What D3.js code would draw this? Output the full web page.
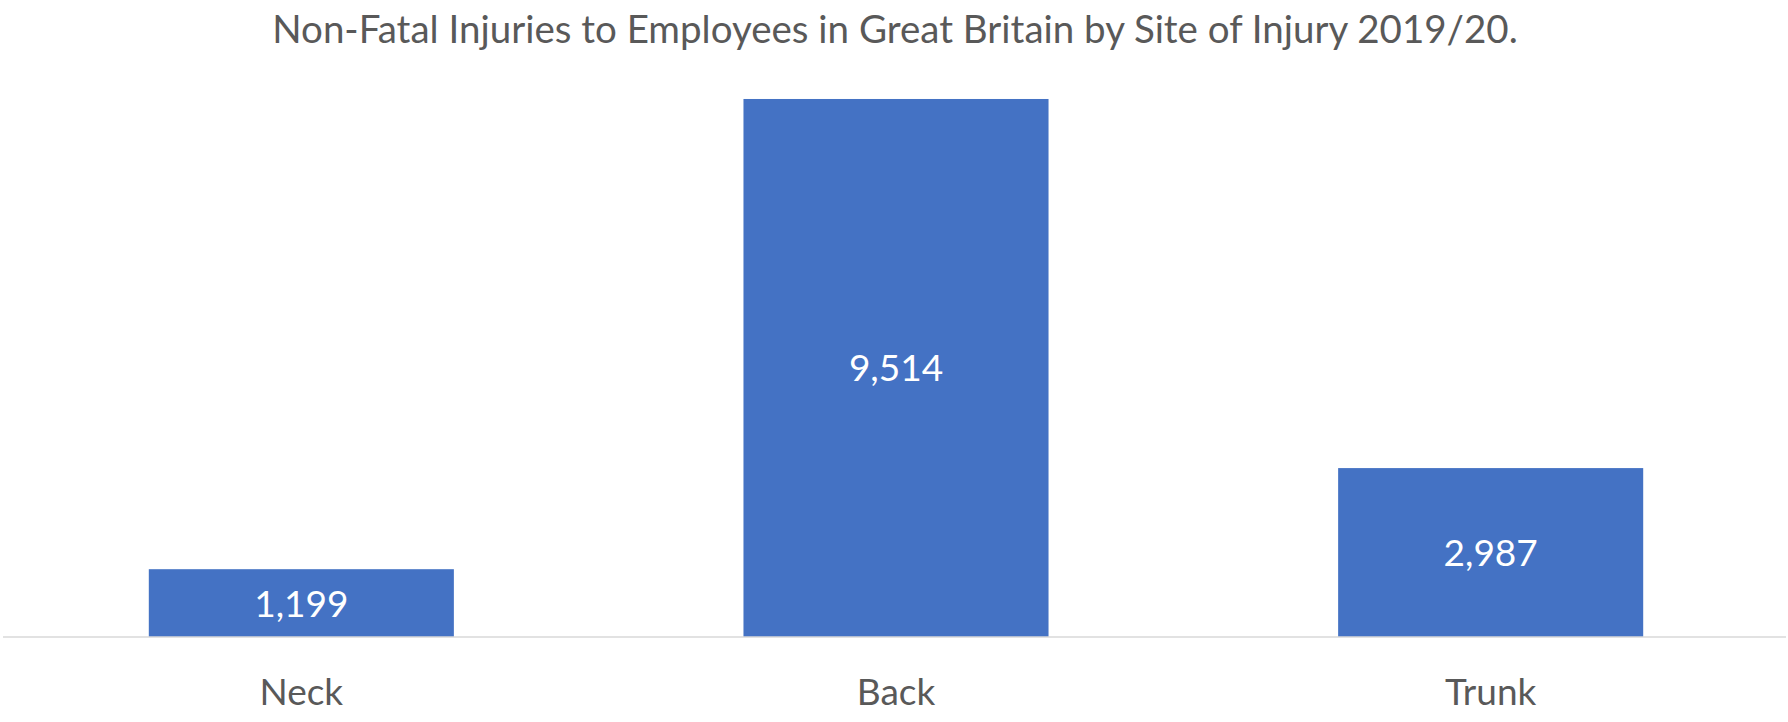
<!DOCTYPE html>
<html><head><meta charset="utf-8">
<script src="https://cdn.jsdelivr.net/npm/d3@7/dist/d3.min.js"></script>
<style>body{margin:0;background:#fff}svg{display:block}</style>
</head><body><svg id="c" width="1788" height="722"></svg>
<script>
const title = "Non-Fatal Injuries to Employees in Great Britain by Site of Injury 2019/20.";
const categories = ["Neck", "Back", "Trunk"];
const values = [1199, 9514, 2987];
const yDomain = [0, 10000];

const W = 1788, H = 722;
const svg = d3.select("#c");
const font = "Lato, 'Open Sans', sans-serif";
const x = d3.scaleBand().domain(categories).range([4, 1788]).paddingInner(0.487).paddingOuter(0.2435);
const y = d3.scaleLinear().domain(yDomain).range([637, 71.5]);

svg.append("text").attr("x", 895).attr("y", 43).attr("text-anchor", "middle")
  .attr("font-family", font).attr("font-size", 38.5).attr("fill", "#595959").text(title);

svg.selectAll("rect.bar").data(values).join("rect").attr("class", "bar")
  .attr("x", (d, i) => x(categories[i])).attr("width", x.bandwidth())
  .attr("y", d => y(d)).attr("height", d => y(0) - y(d)).attr("fill", "#4472C4");

const axis = svg.append("g").attr("transform", `translate(0,${y(0)})`)
  .call(d3.axisBottom(x).tickSize(0).tickPadding(0));
axis.select(".domain").attr("stroke", "#D9D9D9").attr("stroke-width", 1.5).attr("d", "M3,0H1786");
axis.selectAll(".tick text").attr("font-family", font).attr("font-size", 37).attr("fill", "#595959")
  .attr("dy", null).attr("y", 68);

svg.selectAll("text.val").data(values).join("text").attr("class", "val")
  .attr("x", (d, i) => x(categories[i]) + x.bandwidth() / 2)
  .attr("y", d => (y(d) + y(0)) / 2 + 13.5)
  .attr("text-anchor", "middle").attr("font-family", font).attr("font-size", 37).attr("fill", "#fff")
  .text(d => d3.format(",")(d));
</script></body></html>
